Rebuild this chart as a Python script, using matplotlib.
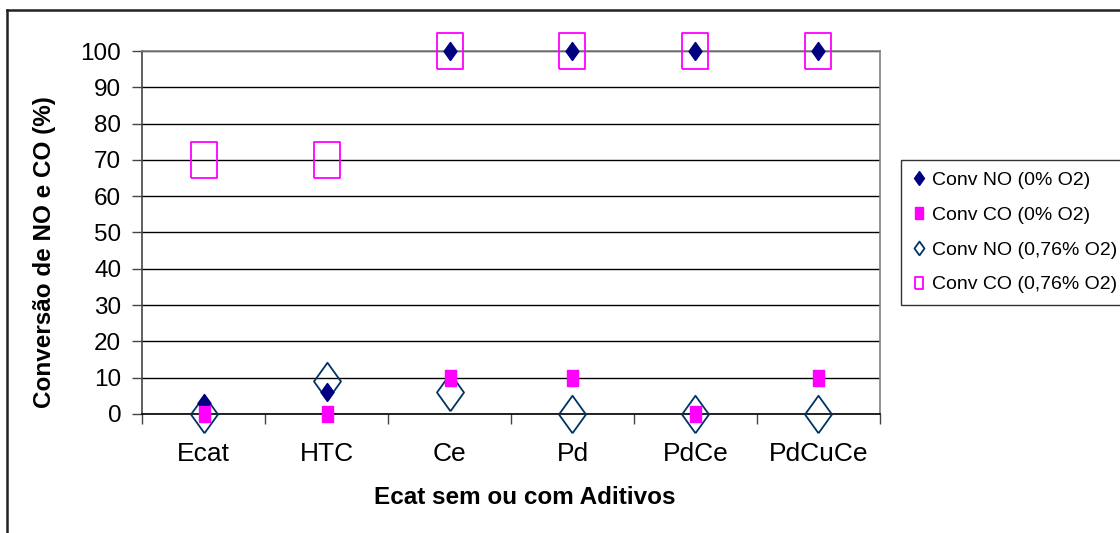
import matplotlib.pyplot as plt
from matplotlib.lines import Line2D

plt.rcParams['font.family'] = ['Liberation Sans', 'DejaVu Sans']

# dados
categorias = ['Ecat', 'HTC', 'Ce', 'Pd', 'PdCe', 'PdCuCe']
conv_no_0 = [3, 6, 100, 100, 100, 100]
conv_co_0 = [0, 0, 10, 10, 0, 10]
conv_no_076 = [0, 9, 6, 0, 0, 0]
conv_co_076 = [70, 70, 100, 100, 100, 100]

x = list(range(len(categorias)))

fig = plt.figure(figsize=(11.2, 5.33), dpi=100)
ax = fig.add_axes([0.1268, 0.2233, 0.6589, 0.6810])

# marcador retangular (mais alto que largo, como no original)
ret = [(-0.72, -1), (0.72, -1), (0.72, 1), (-0.72, 1), (-0.72, -1)]
los = [(0, -1), (0.72, 0), (0, 1), (-0.72, 0), (0, -1)]

ax.plot(x, conv_no_076, linestyle='none', marker=los, markersize=27,
        markerfacecolor='none', markeredgecolor='#003366', markeredgewidth=1.3,
        zorder=3, clip_on=False)
ax.plot(x, conv_co_076, linestyle='none', marker=ret, markersize=26,
        markerfacecolor='none', markeredgecolor='#FF00FF', markeredgewidth=1.3,
        zorder=3, clip_on=False)
ax.plot(x, conv_no_0, linestyle='none', marker=los, markersize=13,
        color='#000080', zorder=4, clip_on=False)
ax.plot(x, conv_co_0, linestyle='none', marker=ret, markersize=11,
        color='#FF00FF', zorder=4, clip_on=False)

ax.set_xlim(-0.5, len(categorias) - 0.5)
ax.set_ylim(0, 100)
ax.set_yticks(range(0, 101, 10))
ax.yaxis.grid(True, color='black', linewidth=1)
ax.set_axisbelow(True)

ax.set_xticks(x)
ax.set_xticklabels(categorias, fontsize=19)
ax.set_xticks([i + 0.5 for i in range(-1, len(categorias))], minor=True)
ax.tick_params(axis='x', which='major', length=0, pad=20)
ax.tick_params(axis='x', which='minor', length=7, width=1, color='#444444')
ax.tick_params(axis='y', labelsize=17.5, length=7, width=1, color='#444444', pad=8)

for lado in ['top', 'right']:
    ax.spines[lado].set_color('#808080')
ax.spines['left'].set_color('#444444')
ax.spines['bottom'].set_color('black')
for s in ax.spines.values():
    s.set_linewidth(1.2)

fig.text(45 / 1120, 1 - 252 / 533, 'Conversão de NO e CO (%)', rotation=90,
         ha='center', va='center', fontsize=17.5, fontweight='bold')
fig.text(525 / 1120, 1 - 497 / 533, 'Ecat sem ou com Aditivos',
         ha='center', va='center', fontsize=17.5, fontweight='bold')

# legenda
handles = [
    Line2D([], [], linestyle='none', marker=los, markersize=10, color='#000080'),
    Line2D([], [], linestyle='none', marker=ret, markersize=8, color='#FF00FF'),
    Line2D([], [], linestyle='none', marker=los, markersize=10, markerfacecolor='none',
           markeredgecolor='#003366', markeredgewidth=1.3),
    Line2D([], [], linestyle='none', marker=ret, markersize=8, markerfacecolor='none',
           markeredgecolor='#FF00FF', markeredgewidth=1.3),
]
labels = ['Conv NO (0% O2)', 'Conv CO (0% O2)', 'Conv NO (0,76% O2)', 'Conv CO (0,76% O2)']
leg = fig.legend(handles, labels, loc='upper left', bbox_to_anchor=(901 / 1120, 1 - 160 / 533),
                 fontsize=14, frameon=True, fancybox=False, edgecolor='black',
                 handlelength=0.6, handletextpad=0.4, labelspacing=0.88,
                 borderpad=0.6, borderaxespad=0)
leg.get_frame().set_linewidth(1)

# moldura da área do gráfico (só topo e lado esquerdo visíveis)
fig.add_artist(Line2D([7 / 1120, 1], [1 - 10 / 533, 1 - 10 / 533],
                      transform=fig.transFigure, color='#222222', linewidth=1.8))
fig.add_artist(Line2D([7 / 1120, 7 / 1120], [0, 1 - 10 / 533],
                      transform=fig.transFigure, color='#222222', linewidth=1.8))

fig.savefig('out.png', dpi=100)
